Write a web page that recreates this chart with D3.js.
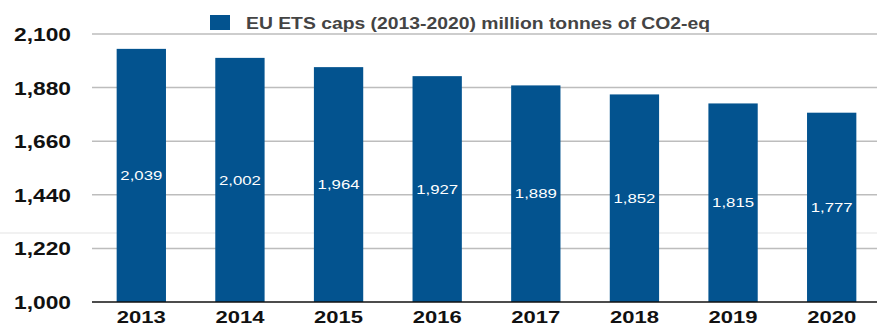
<!DOCTYPE html>
<html>
<head>
<meta charset="utf-8">
<script src="https://cdn.jsdelivr.net/npm/d3@7"></script>
<style>
  html, body { margin: 0; padding: 0; background: #fff; }
  svg { display: block; }
  text { font-family: "Liberation Sans", Arial, Helvetica, sans-serif; }
</style>
</head>
<body>
<svg id="chart" width="877" height="327"></svg>
<script>
// EU ETS caps per year, million tonnes of CO2-eq
const years = ["2013", "2014", "2015", "2016", "2017", "2018", "2019", "2020"];
const caps = [2039, 2002, 1964, 1927, 1889, 1852, 1815, 1777];
const yTicks = [1000, 1220, 1440, 1660, 1880, 2100];
const seriesName = "EU ETS caps (2013-2020) million tonnes of CO2-eq";

const W = 877, H = 327;
const plotLeft = 92, plotRight = 877, plotTop = 34, plotBottom = 302;
const barColor = "#03538f";

const svg = d3.select("#chart");

const x = d3.scaleBand()
  .domain(years)
  .range([plotLeft, 881])
  .paddingInner(0.5)
  .paddingOuter(0.25);

const y = d3.scaleLinear()
  .domain([1000, 2100])
  .range([plotBottom, plotTop]);

const fmt = d3.format(",");

// faint separator across the lower part of the frame
svg.append("line")
  .attr("x1", 0).attr("x2", W)
  .attr("y1", 233).attr("y2", 233)
  .attr("stroke", "#e3e3e3").attr("stroke-width", 1);

// horizontal gridlines
svg.append("g")
  .selectAll("line")
  .data(yTicks.filter(d => d !== 1000))
  .join("line")
  .attr("x1", plotLeft).attr("x2", plotRight)
  .attr("y1", d => y(d)).attr("y2", d => y(d))
  .attr("stroke", "#bdbdbd")
  .attr("stroke-width", 1.5);

// y axis labels
const yAxis = d3.axisLeft(y).tickValues(yTicks).tickFormat(fmt).tickSize(0).tickPadding(0);
const yg = svg.append("g").attr("transform", `translate(71,0)`).call(yAxis);
yg.select(".domain").remove();
yg.selectAll("text")
  .attr("font-size", 18)
  .attr("font-weight", "bold")
  .attr("font-family", "Liberation Sans, Arial, sans-serif")
  .attr("fill", "#111")
  .attr("dy", "0.36em")
  .attr("textLength", 57)
  .attr("lengthAdjust", "spacingAndGlyphs");

// bars
svg.append("g")
  .selectAll("rect")
  .data(years)
  .join("rect")
  .attr("x", d => x(d))
  .attr("width", x.bandwidth())
  .attr("y", (d, i) => y(caps[i]))
  .attr("height", (d, i) => y(1000) - y(caps[i]))
  .attr("fill", barColor);

// value labels centred in each bar
svg.append("g")
  .selectAll("text")
  .data(years)
  .join("text")
  .attr("x", d => x(d) + x.bandwidth() / 2)
  .attr("y", (d, i) => (y(caps[i]) + y(1000)) / 2)
  .attr("dy", "0.36em")
  .attr("text-anchor", "middle")
  .attr("font-size", 13)
  .attr("fill", "#fff")
  .attr("textLength", 42)
  .attr("lengthAdjust", "spacingAndGlyphs")
  .text((d, i) => fmt(caps[i]));

// baseline
svg.append("line")
  .attr("x1", plotLeft).attr("x2", plotRight)
  .attr("y1", y(1000)).attr("y2", y(1000))
  .attr("stroke", "#111")
  .attr("stroke-width", 1.5);

// x axis labels
const xAxis = d3.axisBottom(x).tickSize(0).tickPadding(0);
const xg = svg.append("g").attr("transform", `translate(0,${plotBottom})`).call(xAxis);
xg.select(".domain").remove();
xg.selectAll("text")
  .attr("y", 21)
  .attr("dy", 0)
  .attr("font-size", 17)
  .attr("font-weight", "bold")
  .attr("font-family", "Liberation Sans, Arial, sans-serif")
  .attr("fill", "#111")
  .attr("textLength", 49)
  .attr("lengthAdjust", "spacingAndGlyphs");

// legend
const legend = svg.append("g");
legend.append("rect")
  .attr("x", 210).attr("y", 15)
  .attr("width", 20).attr("height", 15)
  .attr("fill", barColor);
legend.append("text")
  .attr("x", 246).attr("y", 29)
  .attr("font-size", 17)
  .attr("font-weight", "bold")
  .attr("fill", "#444")
  .attr("textLength", 464)
  .attr("lengthAdjust", "spacingAndGlyphs")
  .text(seriesName);
</script>
</body>
</html>
